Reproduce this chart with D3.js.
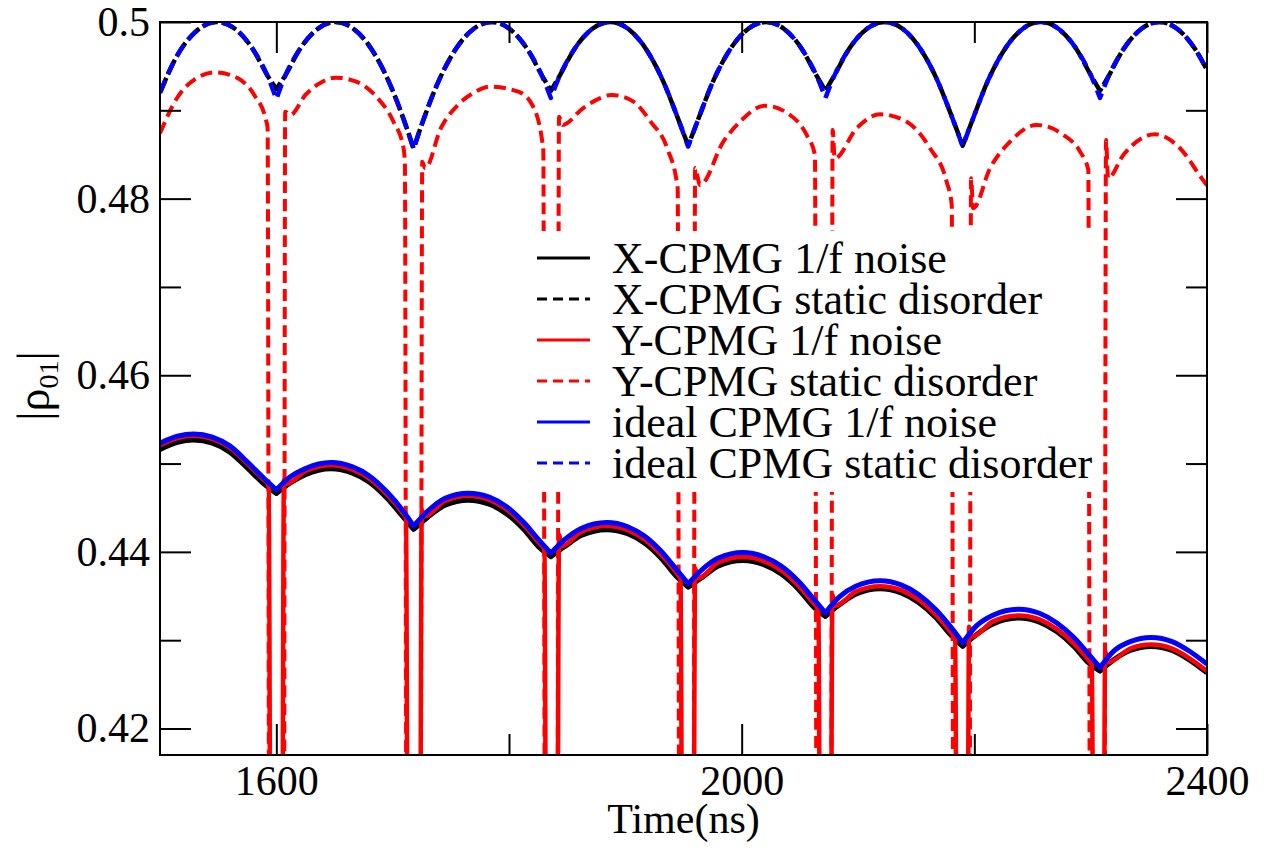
<!DOCTYPE html>
<html lang="en">
<head>
<meta charset="utf-8" />
<title>CPMG coherence</title>
<script src="https://cdn.jsdelivr.net/npm/d3@7"></script>
<style>
  body { margin: 0; background: #fff; }
  svg text { font-family: "Liberation Serif", "Times New Roman", serif; fill: #000; }
</style>
</head>
<body>
<script>
// pulse times (ns) where the arcs meet in a cusp
var pulseTimes = [1600, 1718, 1836, 1954, 2072, 2190, 2308];

var xTicksMajor = [1600, 2000, 2400];
var xTicksMinor = [1800, 2200];
var yTicksMajor = [0.42, 0.44, 0.46, 0.48, 0.5];
var yTicksMinor = [0.43, 0.45, 0.47, 0.49];

// X-CPMG static disorder  [time, |rho01|]
var xStatic = [
  [1500,0.49200],[1515,0.49626],[1530,0.49883],[1549,0.50000],[1565,0.49917],[1580,0.49689],[1592,0.49402],[1600,0.49240],
  [1608,0.49402],[1620,0.49689],[1636,0.49927],[1651,0.50000],[1666,0.49927],[1681,0.49709],[1696,0.49345],[1708,0.48951],[1718,0.48570],
  [1726,0.48876],[1740,0.49345],[1755,0.49709],[1770,0.49927],[1785,0.50000],[1800,0.49927],[1815,0.49709],[1828,0.49402],[1836,0.49220],
  [1844,0.49402],[1856,0.49689],[1872,0.49927],[1887,0.50000],[1902,0.49927],[1917,0.49709],[1932,0.49345],[1944,0.48951],[1954,0.48600],
  [1962,0.48876],[1976,0.49345],[1991,0.49709],[2006,0.49927],[2021,0.50000],[2036,0.49927],[2051,0.49709],[2064,0.49402],[2072,0.49220],
  [2080,0.49402],[2092,0.49689],[2108,0.49927],[2123,0.50000],[2138,0.49927],[2153,0.49709],[2168,0.49345],[2180,0.48951],[2190,0.48600],
  [2198,0.48876],[2212,0.49345],[2227,0.49709],[2242,0.49927],[2257,0.50000],[2272,0.49927],[2287,0.49709],[2300,0.49402],[2308,0.49220],
  [2316,0.49402],[2328,0.49689],[2344,0.49927],[2359,0.50000],[2374,0.49927],[2389,0.49709],[2400,0.49457]
];

// ideal CPMG static disorder
var idealStatic = [
  [1500,0.49200],[1515,0.49626],[1530,0.49883],[1549,0.50000],[1565,0.49917],[1580,0.49689],[1592,0.49402],[1600,0.49125],
  [1608,0.49402],[1620,0.49689],[1636,0.49927],[1651,0.50000],[1666,0.49927],[1681,0.49709],[1696,0.49345],[1708,0.48951],[1718,0.48560],
  [1726,0.48876],[1740,0.49345],[1755,0.49709],[1770,0.49927],[1785,0.50000],[1800,0.49927],[1815,0.49709],[1828,0.49402],[1836,0.49140],
  [1844,0.49402],[1856,0.49689],[1872,0.49927],[1887,0.50000],[1902,0.49927],[1917,0.49709],[1932,0.49345],[1944,0.48951],[1954,0.48590],
  [1962,0.48876],[1976,0.49345],[1991,0.49709],[2006,0.49927],[2021,0.50000],[2036,0.49927],[2051,0.49709],[2064,0.49402],[2072,0.49140],
  [2080,0.49402],[2092,0.49689],[2108,0.49927],[2123,0.50000],[2138,0.49927],[2153,0.49709],[2168,0.49345],[2180,0.48951],[2190,0.48590],
  [2198,0.48876],[2212,0.49345],[2227,0.49709],[2242,0.49927],[2257,0.50000],[2272,0.49927],[2287,0.49709],[2300,0.49402],[2308,0.49140],
  [2316,0.49402],[2328,0.49689],[2344,0.49927],[2359,0.50000],[2374,0.49927],[2389,0.49709],[2400,0.49457]
];

// Y-CPMG static disorder (drops far below the frame around each pulse)
var yStatic = [
  [1500,0.48740],[1514.5,0.49136],[1529,0.49343],[1548,0.49430],[1567,0.49362],[1581,0.49174],[1591.5,0.48871],[1592.5,0.48800],
  [1594,0.40],[1606.5,0.40],[1607.6,0.48985],
  [1612,0.48947],[1625,0.49174],[1639.6,0.49324],[1651,0.49370],[1668.7,0.49324],[1686,0.49155],[1700.7,0.48871],[1709.4,0.48570],[1710.5,0.48400],
  [1712,0.40],[1724,0.40],[1725.4,0.48418],
  [1728,0.48344],[1741.4,0.48797],[1756,0.49060],[1770,0.49200],[1783.5,0.49268],[1808,0.49211],[1820,0.49060],[1828.6,0.48645],[1829.5,0.48550],
  [1831,0.40],[1841.5,0.40],[1843,0.48928],
  [1846,0.48834],[1863.5,0.49023],[1878,0.49136],[1888,0.49174],[1907,0.49098],[1921.7,0.48871],[1936,0.48570],[1945,0.48117],
  [1946.5,0.40],[1958.5,0.40],[1960,0.48347],
  [1964.2,0.48155],[1984.3,0.48645],[1998.6,0.48871],[2020,0.49052],[2041.6,0.48947],[2055.9,0.48721],[2063,0.48494],
  [2064.5,0.40],[2076.8,0.40],[2078.2,0.48777],
  [2080,0.48457],[2098.9,0.48797],[2118.9,0.48955],[2141.9,0.48871],[2161.9,0.48570],[2176.2,0.48192],[2180.6,0.47928],
  [2182,0.40],[2195.8,0.40],[2197.2,0.48230],
  [2199,0.47891],[2213.5,0.48343],[2230.7,0.48645],[2253.6,0.48834],[2276.5,0.48721],[2290.9,0.48532],[2298,0.48324],
  [2299.5,0.40],[2311.8,0.40],[2313.2,0.48664],
  [2315,0.48230],[2328.1,0.48494],[2355.3,0.48729],[2376.8,0.48570],[2395.5,0.48230],[2400,0.48150]
];

// X-CPMG 1/f noise
var x1f = [
  [1500,0.45160],[1515,0.45240],[1529,0.45266],[1545,0.45230],[1560,0.45130],[1575,0.44950],[1588,0.44785],[1600,0.44662],
  [1612,0.44780],[1625,0.44875],[1647,0.44941],[1665,0.44895],[1680,0.44790],[1695,0.44610],[1708,0.44410],[1718,0.44254],
  [1730,0.44390],[1745,0.44528],[1765,0.44585],[1783,0.44540],[1798,0.44430],[1813,0.44250],[1826,0.44050],[1836,0.43945],
  [1848,0.44060],[1862,0.44185],[1884,0.44252],[1902,0.44205],[1917,0.44095],[1931,0.43925],[1944,0.43720],[1954,0.43600],
  [1966,0.43710],[1980,0.43840],[2001,0.43902],[2019,0.43855],[2034,0.43750],[2049,0.43575],[2062,0.43375],[2072,0.43270],
  [2084,0.43400],[2098,0.43520],[2119,0.43582],[2137,0.43536],[2152,0.43428],[2167,0.43255],[2180,0.43055],[2190,0.42930],
  [2202,0.43065],[2216,0.43183],[2238,0.43251],[2256,0.43205],[2271,0.43095],[2286,0.42924],[2298,0.42745],[2308,0.42650],
  [2320,0.42780],[2334,0.42884],[2352,0.42930],[2370,0.42884],[2385,0.42775],[2400,0.42630]
];

// Y-CPMG 1/f noise (drops far below the frame around each pulse)
var y1f = [
  [1500,0.45210],[1515,0.45290],[1529,0.45316],[1545,0.45280],[1560,0.45180],[1575,0.45000],[1588,0.44830],[1593.5,0.44755],
  [1595,0.40],[1605,0.40],[1606.5,0.44815],
  [1609,0.44770],[1625,0.44915],[1647,0.44981],[1665,0.44935],[1680,0.44830],[1695,0.44650],[1708,0.44450],[1711.5,0.44380],
  [1713,0.40],[1723.5,0.40],[1725,0.44483],
  [1727,0.44400],[1745,0.44578],[1765,0.44635],[1783,0.44590],[1798,0.44480],[1813,0.44300],[1826,0.44100],[1830.5,0.44030],
  [1832,0.40],[1841.5,0.40],[1843,0.44192],
  [1845.5,0.44065],[1862,0.44225],[1884,0.44292],[1902,0.44245],[1917,0.44135],[1931,0.43965],[1944,0.43760],[1947.5,0.43690],
  [1949,0.40],[1958.5,0.40],[1960,0.43815],
  [1962.5,0.43700],[1980,0.43880],[2001,0.43942],[2019,0.43895],[2034,0.43790],[2049,0.43615],[2062,0.43415],[2066,0.43345],
  [2067.5,0.40],[2076.5,0.40],[2078,0.43513],
  [2080.5,0.43390],[2098,0.43550],[2119,0.43612],[2137,0.43566],[2152,0.43458],[2167,0.43285],[2180,0.43085],[2183.5,0.43025],
  [2185,0.40],[2194,0.40],[2195.5,0.43151],
  [2198,0.43040],[2216,0.43213],[2238,0.43281],[2256,0.43235],[2271,0.43125],[2286,0.42954],[2298,0.42775],[2301,0.42720],
  [2302.5,0.40],[2311,0.40],[2312.5,0.42868],
  [2315,0.42750],[2334,0.42904],[2352,0.42950],[2370,0.42904],[2385,0.42795],[2400,0.42650]
];

// ideal CPMG 1/f noise
var ideal1f = [
  [1500,0.45230],[1515,0.45310],[1529,0.45336],[1545,0.45300],[1560,0.45200],[1575,0.45020],[1588,0.44850],[1600,0.44702],
  [1612,0.44850],[1625,0.44945],[1647,0.45011],[1665,0.44965],[1680,0.44860],[1695,0.44680],[1708,0.44480],[1718,0.44294],
  [1730,0.44460],[1745,0.44608],[1765,0.44665],[1783,0.44620],[1798,0.44510],[1813,0.44330],[1826,0.44130],[1836,0.43985],
  [1848,0.44140],[1862,0.44265],[1884,0.44332],[1902,0.44285],[1917,0.44175],[1931,0.44005],[1944,0.43800],[1954,0.43640],
  [1966,0.43800],[1980,0.43930],[2001,0.43992],[2019,0.43945],[2034,0.43840],[2049,0.43665],[2062,0.43465],[2072,0.43310],
  [2084,0.43490],[2098,0.43610],[2119,0.43672],[2137,0.43626],[2152,0.43518],[2167,0.43345],[2180,0.43145],[2190,0.42970],
  [2202,0.43165],[2216,0.43283],[2238,0.43351],[2256,0.43305],[2271,0.43195],[2286,0.43024],[2298,0.42845],[2308,0.42690],
  [2320,0.42880],[2334,0.42984],[2352,0.43030],[2370,0.42984],[2385,0.42875],[2400,0.42730]
];

var series = [
  {name:'X-CPMG 1/f noise',            data:x1f,         color:'#000000', width:5,   dash:null,   legDash:null},
  {name:'X-CPMG static disorder',      data:xStatic,     color:'#000000', width:4.5, dash:'16,4', legDash:'10,6'},
  {name:'Y-CPMG 1/f noise',            data:y1f,         color:'#ff0000', width:4.5, dash:null,   legDash:null},
  {name:'Y-CPMG static disorder',      data:yStatic,     color:'#ff0000', width:4,   dash:'12,6', legDash:'10,6'},
  {name:'ideal CPMG 1/f noise',        data:ideal1f,     color:'#0000ff', width:5,   dash:null,   legDash:null},
  {name:'ideal CPMG static disorder',  data:idealStatic, color:'#0000ff', width:4.5, dash:'13,7', legDash:'10,6'}
];

var W = 1269, H = 849;
var L = 160, R = 1207, T = 22, B = 755;
var FONT = '"Liberation Serif", "Times New Roman", serif';

var svg = d3.select('body').append('svg')
  .attr('width', W)
  .attr('height', H)
  .attr('font-family', FONT);

var x = d3.scaleLinear().domain([1500, 2400]).range([L, R]);
var y = d3.scaleLinear().domain([0.417, 0.5]).range([B, T]);

svg.append('clipPath').attr('id', 'plotclip')
  .append('rect')
  .attr('x', L).attr('y', T)
  .attr('width', R - L).attr('height', B - T);

var line = d3.line()
  .x(function(d) { return x(d[0]); })
  .y(function(d) { return y(d[1]); })
  .curve(d3.curveMonotoneX);

// each arc is smoothed on its own so the cusps at the pulses stay sharp
function arcPath(pts) {
  var segs = [], cur = [pts[0]];
  for (var i = 1; i < pts.length; i++) {
    cur.push(pts[i]);
    if (pulseTimes.indexOf(pts[i][0]) >= 0 && i < pts.length - 1) {
      segs.push(cur);
      cur = [pts[i]];
    }
  }
  segs.push(cur);
  return segs.map(function(s, i) {
    var d = line(s);
    return i ? d.replace(/^M/, 'L') : d;
  }).join('');
}

var plot = svg.append('g').attr('clip-path', 'url(#plotclip)');
series.forEach(function(s) {
  var p = plot.append('path')
    .attr('d', arcPath(s.data))
    .attr('fill', 'none')
    .attr('stroke', s.color)
    .attr('stroke-width', s.width)
    .attr('stroke-linejoin', 'round');
  if (s.dash) p.attr('stroke-dasharray', s.dash);
});

// axes, ticks pointing inwards on all four sides
function styleAxis(g) {
  g.select('.domain').remove();
  g.selectAll('.tick line').attr('stroke', '#000').attr('stroke-width', 2);
  g.selectAll('text')
    .attr('font-family', FONT)
    .attr('font-size', 42)
    .attr('fill', '#000');
  g.attr('font-size', null).attr('font-family', null);
}

function addAxis(axis, tx, ty) {
  svg.append('g').attr('transform', 'translate(' + tx + ',' + ty + ')').call(axis).call(styleAxis);
}

addAxis(d3.axisBottom(x).tickValues(xTicksMajor).tickSize(-31).tickSizeOuter(0).tickPadding(10).tickFormat(d3.format('d')), 0, B);
addAxis(d3.axisBottom(x).tickValues(xTicksMinor).tickSize(-21).tickSizeOuter(0).tickFormat(''), 0, B);
addAxis(d3.axisTop(x).tickValues(xTicksMajor).tickSize(-31).tickSizeOuter(0).tickFormat(''), 0, T);
addAxis(d3.axisTop(x).tickValues(xTicksMinor).tickSize(-21).tickSizeOuter(0).tickFormat(''), 0, T);
addAxis(d3.axisLeft(y).tickValues(yTicksMajor).tickSize(-31).tickSizeOuter(0).tickPadding(10)
  .tickFormat(function(d) { return d === 0.5 ? '0.5' : d.toFixed(2); }), L, 0);
addAxis(d3.axisLeft(y).tickValues(yTicksMinor).tickSize(-21).tickSizeOuter(0).tickFormat(''), L, 0);
addAxis(d3.axisRight(y).tickValues(yTicksMajor).tickSize(-31).tickSizeOuter(0).tickFormat(''), R, 0);
addAxis(d3.axisRight(y).tickValues(yTicksMinor).tickSize(-21).tickSizeOuter(0).tickFormat(''), R, 0);

svg.append('rect')
  .attr('x', L).attr('y', T)
  .attr('width', R - L).attr('height', B - T)
  .attr('fill', 'none')
  .attr('stroke', '#000')
  .attr('stroke-width', 2);

// axis titles
svg.append('text')
  .attr('x', (L + R) / 2).attr('y', 833)
  .attr('text-anchor', 'middle')
  .attr('font-size', 42)
  .text('Time(ns)');

var yl = svg.append('text')
  .attr('transform', 'translate(49,386) rotate(-90)')
  .attr('text-anchor', 'middle')
  .attr('font-size', 46);
yl.append('tspan').text('|\u03c1');
yl.append('tspan').attr('font-size', 28).attr('dy', 9).text('01');
yl.append('tspan').attr('dy', -9).text('|');

// legend with white background
var leg = svg.append('g');
leg.append('rect')
  .attr('x', 528).attr('y', 231)
  .attr('width', 571).attr('height', 261)
  .attr('fill', '#fff');
series.forEach(function(s, i) {
  var by = 273 + i * 41;
  leg.append('line')
    .attr('x1', 537).attr('x2', 590)
    .attr('y1', by - 15).attr('y2', by - 15)
    .attr('stroke', s.color)
    .attr('stroke-width', 3)
    .attr('stroke-dasharray', s.legDash);
  leg.append('text')
    .attr('x', 612).attr('y', by)
    .attr('font-size', 44)
    .text(s.name);
});
</script>
</body>
</html>
